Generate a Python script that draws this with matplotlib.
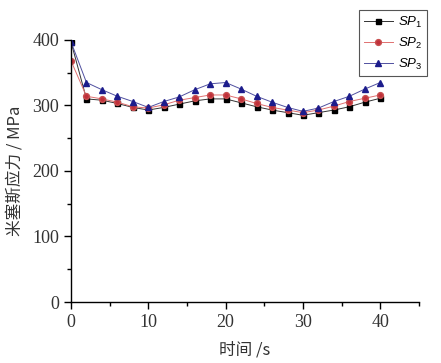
import numpy as np
import matplotlib
matplotlib.use('Agg')
import matplotlib.pyplot as plt
from matplotlib.ticker import MultipleLocator

plt.rcParams['mathtext.fontset'] = 'custom'
plt.rcParams['mathtext.it'] = 'Liberation Sans:italic'
plt.rcParams['mathtext.rm'] = 'Liberation Sans'

# data
t = np.arange(0, 41, 2)
sp1 = [397, 310, 308, 303, 297, 293, 297, 302, 307, 310, 310,
       304, 298, 293, 289, 285, 289, 293, 298, 305, 311]
sp2 = [368, 314, 310, 305, 298, 296, 301, 308, 312, 316, 316,
       310, 303, 297, 293, 289, 293, 299, 306, 311, 316]
sp3 = [397, 335, 324, 314, 306, 297, 306, 313, 324, 333, 335,
       325, 314, 305, 297, 291, 296, 306, 314, 325, 335]
labels = [r'$\mathit{SP}_\mathrm{1}$', r'$\mathit{SP}_\mathrm{2}$', r'$\mathit{SP}_\mathrm{3}$']

fig = plt.figure(figsize=(4.41, 3.63), dpi=100)
ax = fig.add_axes([0.161, 0.168, 0.789, 0.722])

ax.plot(t, sp1, '-', color='#333333', lw=0.7, marker='s', ms=3.6,
        mfc='black', mec='black', label=labels[0])
ax.plot(t, sp2, '-', color='#e07070', lw=0.7, marker='o', ms=4.2,
        mfc='#c0303a', mec='#c85050', label=labels[1])
ax.plot(t, sp3, '-', color='#5050a0', lw=0.7, marker='^', ms=4.6,
        mfc='#1c1c8c', mec='#1c1c8c', label=labels[2])

ax.set_xlim(0, 45)
ax.set_ylim(0, 400)
ax.xaxis.set_major_locator(MultipleLocator(10))
ax.xaxis.set_minor_locator(MultipleLocator(5))
ax.yaxis.set_major_locator(MultipleLocator(100))
ax.yaxis.set_minor_locator(MultipleLocator(50))
ax.spines['top'].set_visible(False)
ax.spines['right'].set_visible(False)
for s in ['left', 'bottom']:
    ax.spines[s].set_linewidth(1.0)
ax.tick_params(which='major', direction='out', length=5, width=1.0,
               labelsize=13)
ax.tick_params(which='minor', direction='out', length=3, width=1.0)
for lab in ax.get_xticklabels() + ax.get_yticklabels():
    lab.set_fontfamily('Liberation Serif')
    lab.set_color('#333333')

ax.set_xlabel('时间 /s', family=['Noto Sans CJK SC', 'DejaVu Sans'],
              fontsize=12, labelpad=8, color='#333333')
ax.set_ylabel('米塞斯应力 / MPa', family=['Noto Sans CJK SC', 'DejaVu Sans'],
              fontsize=12, labelpad=6, color='#333333')

leg = ax.legend(loc='upper right', bbox_to_anchor=(0.968, 0.973),
                bbox_transform=fig.transFigure, fontsize=9.5,
                fancybox=False, edgecolor='#555555', framealpha=1,
                handlelength=2.2, handletextpad=0.4, borderpad=0.35,
                labelspacing=0.45, borderaxespad=0)
leg.get_frame().set_linewidth(0.8)

fig.savefig('out.png', dpi=100)
